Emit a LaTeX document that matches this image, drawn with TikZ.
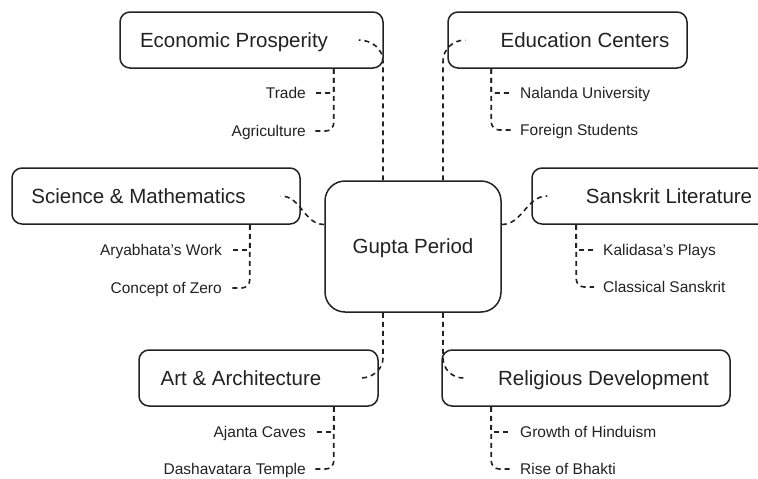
\documentclass[tikz,border=0pt]{standalone}
\usepackage{fontspec}
\setmainfont{Liberation Sans}
\definecolor{ink}{HTML}{222222}
\newcommand\topicfont{\fontsize{20.5}{24}\selectfont}
\newcommand\leaffont{\fontsize{15.5}{18}\selectfont}
\newcommand\edgegap{\rule{35pt}{0pt}}
\tikzset{
	core/.style={draw=ink, fill=white, line width=1.5pt, rounded corners=20, minimum width=176, minimum height=131, font=\topicfont, text=ink, text height=18, text depth=3.3},
	topic/.style={draw=ink, fill=white, line width=1.5pt, rounded corners=10, minimum height=56, inner xsep=0, font=\topicfont, text=ink, text height=18, text depth=3.3},
	leaf/.style={inner xsep=9, inner ysep=0, font=\leaffont, text=ink, text height=14, text depth=3},
	link/.style={draw=ink, line width=1.6pt, dash pattern=on 5pt off 4pt}
}

\begin{document}
\begin{tikzpicture}[x=1pt, y=1pt]
	\useasboundingbox (0,0) rectangle (758,-479);
	\clip (0,0) rectangle (758,-479);

	\node[core] (gp) at (413,-246.5) {Gupta Period};

	\node[topic, minimum width=263] (eco) at (251.5,-40) {Economic Prosperity\edgegap};
	\node[topic, minimum width=239] (edu) at (567.5,-40) {\edgegap Education Centers};
	\node[topic, minimum width=288] (sci) at (156,-196) {Science \& Mathematics\edgegap};
	\node[topic, minimum width=239] (sans) at (651.5,-196) {\edgegap Sanskrit Literature};
	\node[topic, minimum width=239] (art) at (258.5,-378) {Art \& Architecture\edgegap};
	\node[topic, minimum width=288] (rel) at (586,-378) {\edgegap Religious Development};

	% leaves, left side
	\node[leaf, anchor=east] (trade) at (315,-93) {Trade};
	\node[leaf, anchor=east] (agri) at (315,-131) {Agriculture};
	\node[leaf, anchor=east] (arya) at (231,-250) {Aryabhata's Work};
	\node[leaf, anchor=east] (zero) at (231,-288) {Concept of Zero};
	\node[leaf, anchor=east] (ajanta) at (315,-432) {Ajanta Caves};
	\node[leaf, anchor=east] (dasha) at (315,-469) {Dashavatara Temple};

	% leaves, right side
	\node[leaf, anchor=west] (nalanda) at (511,-93) {Nalanda University};
	\node[leaf, anchor=west] (foreign) at (511,-130) {Foreign Students};
	\node[leaf, anchor=west] (kali) at (594,-250) {Kalidasa's Plays};
	\node[leaf, anchor=west] (classic) at (594,-287) {Classical Sanskrit};
	\node[leaf, anchor=west] (hindu) at (511,-432) {Growth of Hinduism};
	\node[leaf, anchor=west] (bhakti) at (511,-469) {Rise of Bhakti};

	% centre to topics
	\draw[link] ([xshift=-30]gp.north) -- ++(0,119) to[out=90, in=0] ([xshift=-25]eco.east);
	\draw[link] ([xshift=30]gp.north) -- ++(0,119) to[out=90, in=180] ([xshift=18]edu.west);
	\draw[link] ([yshift=22]gp.west) to[out=180, in=0] ([xshift=-20]sci.east);
	\draw[link] ([yshift=22]gp.east) to[out=0, in=180] ([xshift=16]sans.west);
	\draw[link] ([xshift=-30]gp.south) -- ++(0,-45) to[out=-90, in=0] ([xshift=-18]art.east);
	\draw[link] ([xshift=30]gp.south) -- ++(0,-45) to[out=-90, in=180] ([xshift=22]rel.west);

	% topics to leaves
	\draw[link, rounded corners=2] ([xshift=-50]eco.south east) |- (trade);
	\draw[link, rounded corners=8] ([xshift=-50]eco.south east) |- (agri);
	\draw[link, rounded corners=2] ([xshift=-51]sci.south east) |- (arya);
	\draw[link, rounded corners=8] ([xshift=-51]sci.south east) |- (zero);
	\draw[link, rounded corners=2] ([xshift=-45]art.south east) |- (ajanta);
	\draw[link, rounded corners=8] ([xshift=-45]art.south east) |- (dasha);
	\draw[link, rounded corners=2] ([xshift=44]edu.south west) |- (nalanda);
	\draw[link, rounded corners=8] ([xshift=44]edu.south west) |- (foreign);
	\draw[link, rounded corners=2] ([xshift=45]sans.south west) |- (kali);
	\draw[link, rounded corners=8] ([xshift=45]sans.south west) |- (classic);
	\draw[link, rounded corners=2] ([xshift=50]rel.south west) |- (hindu);
	\draw[link, rounded corners=8] ([xshift=50]rel.south west) |- (bhakti);
\end{tikzpicture}
\end{document}
